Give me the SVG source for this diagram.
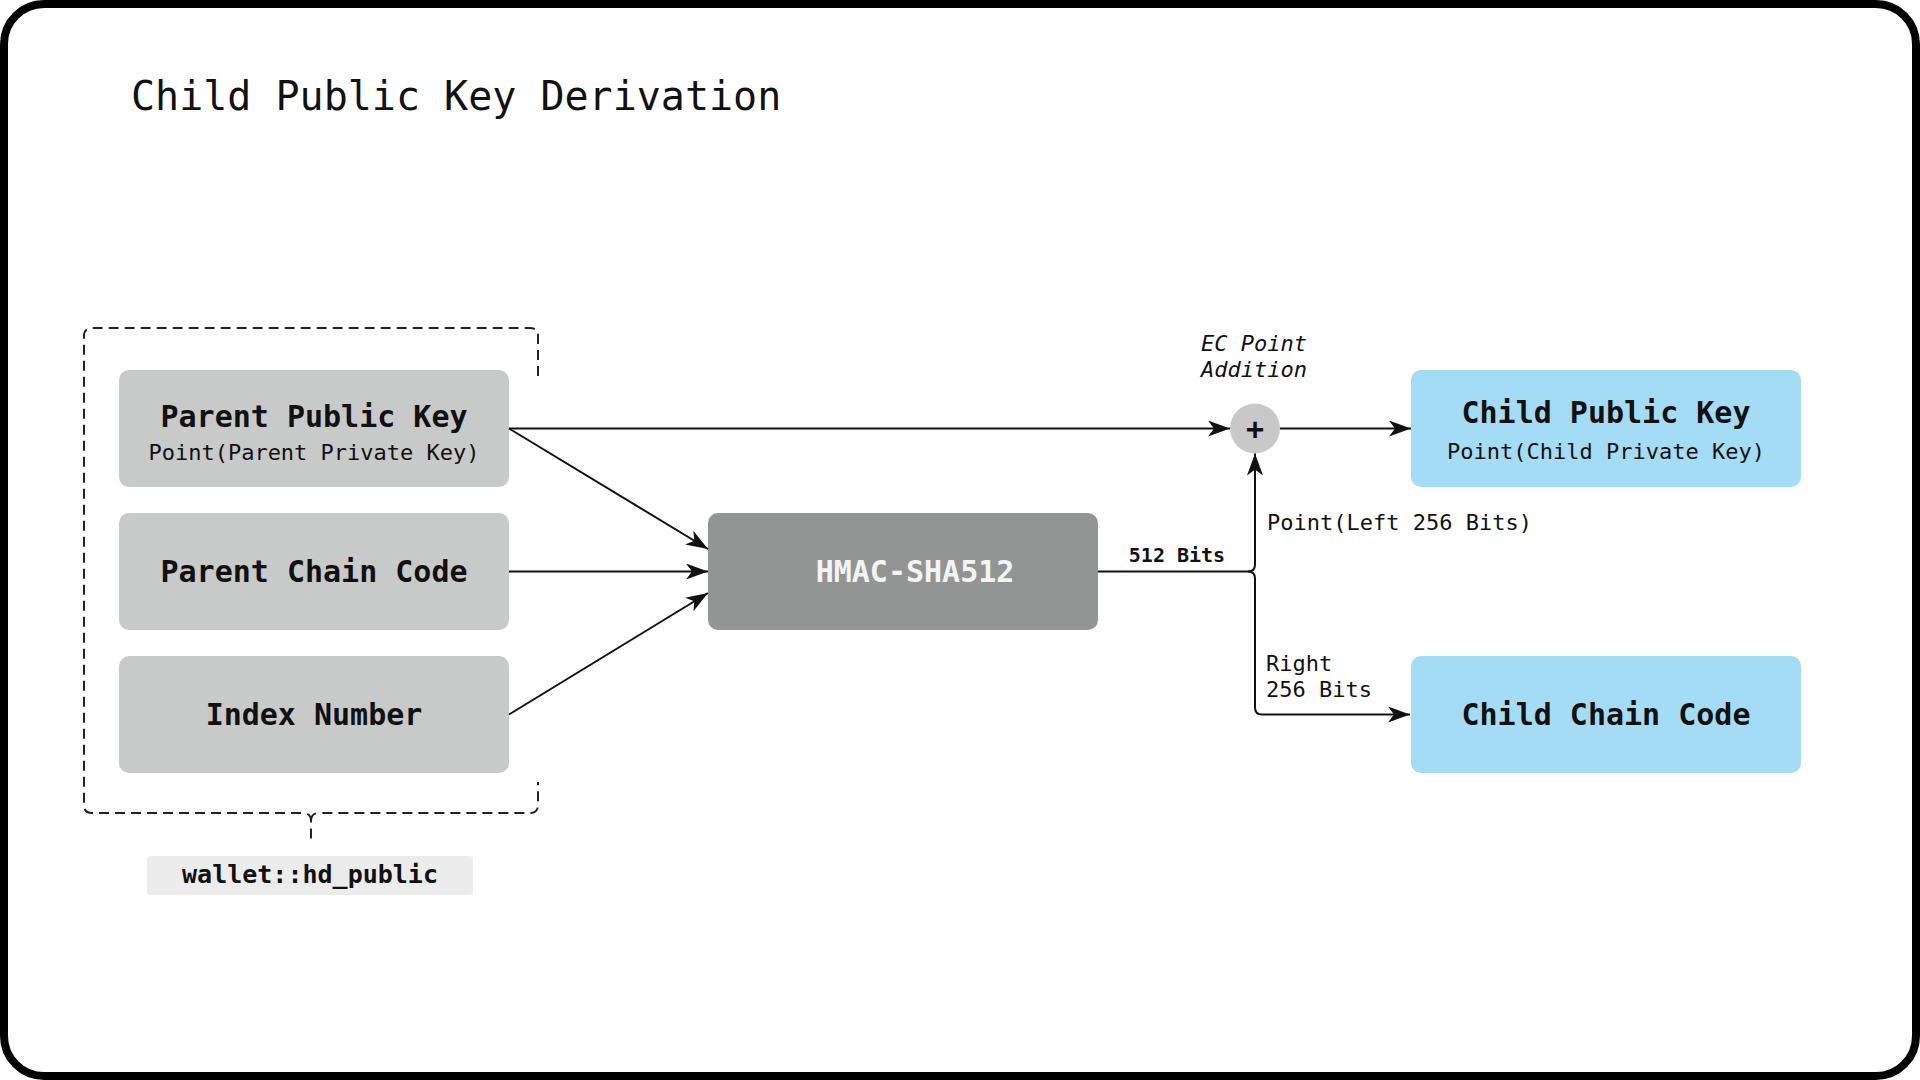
<svg xmlns="http://www.w3.org/2000/svg" width="1920" height="1080" viewBox="0 0 1920 1080">
<style>
  text { font-family: "DejaVu Sans Mono", "Liberation Mono", monospace; fill: #111; }
  .title { font-size: 40px; }
  .label { font-size: 30px; font-weight: bold; text-anchor: middle; }
  .sub { font-size: 22px; text-anchor: middle; }
  .small { font-size: 22px; }
  .gray { fill: #c8c9c9; }
  .blue { fill: #a4dbf5; }
  .conn { fill: none; stroke: #111; stroke-width: 2; }
</style>
<defs>
  <marker id="arrow" markerUnits="userSpaceOnUse" markerWidth="22" markerHeight="16" refX="22" refY="8" orient="auto">
    <path d="M0,0 L22,8 L0,16 L6,8 Z" fill="#111"/>
  </marker>
</defs>
<rect x="4" y="4" width="1912" height="1072" rx="40" fill="#fff" stroke="#000" stroke-width="8"/>
<text class="title" x="131" y="110">Child Public Key Derivation</text>

<g id="group-bracket">
  <path d="M538,376 V336 Q538,328 530,328 H92 Q84,328 84,336 V805 Q84,813 92,813 H303 Q311,813 311,821 V842 M311,821 Q311,813 319,813 H530 Q538,813 538,805 V782" fill="none" stroke="#222" stroke-width="2" stroke-dasharray="10 6"/>
</g>

<g id="node-hd-public">
  <rect x="147" y="856" width="326" height="39" rx="4" fill="#ececec"/>
  <text x="310" y="883" style="font-size:25px;font-weight:bold;text-anchor:middle">wallet::hd_public</text>
</g>

<g id="node-parent-public-key">
  <rect class="gray" x="119" y="370" width="390" height="117" rx="10"/>
  <text class="label" x="314" y="427">Parent Public Key</text>
  <text class="sub" x="314" y="460">Point(Parent Private Key)</text>
</g>
<g id="node-parent-chain-code">
  <rect class="gray" x="119" y="513" width="390" height="117" rx="10"/>
  <text class="label" x="314" y="582">Parent Chain Code</text>
</g>
<g id="node-index-number">
  <rect class="gray" x="119" y="656" width="390" height="117" rx="10"/>
  <text class="label" x="314" y="725">Index Number</text>
</g>
<g id="node-hmac">
  <rect x="708" y="513" width="390" height="117" rx="10" fill="#939494"/>
  <text class="label" x="915" y="582" style="fill:#f4f4f4">HMAC-SHA512</text>
</g>
<g id="node-plus">
  <circle cx="1255" cy="428.5" r="25" fill="#c8c8c8"/>
  <text x="1255" y="439" style="font-size:30px;font-weight:bold;text-anchor:middle">+</text>
  <text class="small" x="1254" y="351" style="font-style:italic;text-anchor:middle">EC Point</text>
  <text class="small" x="1254" y="377" style="font-style:italic;text-anchor:middle">Addition</text>
</g>
<g id="node-child-public-key">
  <rect class="blue" x="1411" y="370" width="390" height="117" rx="10"/>
  <text class="label" x="1606" y="423">Child Public Key</text>
  <text class="sub" x="1606" y="459">Point(Child Private Key)</text>
</g>
<g id="node-child-chain-code">
  <rect class="blue" x="1411" y="656" width="390" height="117" rx="10"/>
  <text class="label" x="1606" y="725">Child Chain Code</text>
</g>

<g id="connectors">
  <path class="conn" d="M509,428.5 H1230" marker-end="url(#arrow)"/>
  <path class="conn" d="M509,428.5 L708,549" marker-end="url(#arrow)"/>
  <path class="conn" d="M509,571.5 H708" marker-end="url(#arrow)"/>
  <path class="conn" d="M509,714.5 L708,593" marker-end="url(#arrow)"/>
  <path class="conn" d="M1098,571.5 H1248 Q1255,571.5 1255,564.5 V453.5" marker-end="url(#arrow)"/>
  <path class="conn" d="M1248,571.5 Q1255,571.5 1255,578.5 V707.5 Q1255,714.5 1262,714.5 H1410" marker-end="url(#arrow)"/>
  <path class="conn" d="M1280,428.5 H1411" marker-end="url(#arrow)"/>
  <text x="1177" y="562" style="font-size:20px;font-weight:bold;text-anchor:middle">512 Bits</text>
  <text class="small" x="1267" y="530">Point(Left 256 Bits)</text>
  <text class="small" x="1266" y="671">Right</text>
  <text class="small" x="1266" y="697">256 Bits</text>
</g>
</svg>
